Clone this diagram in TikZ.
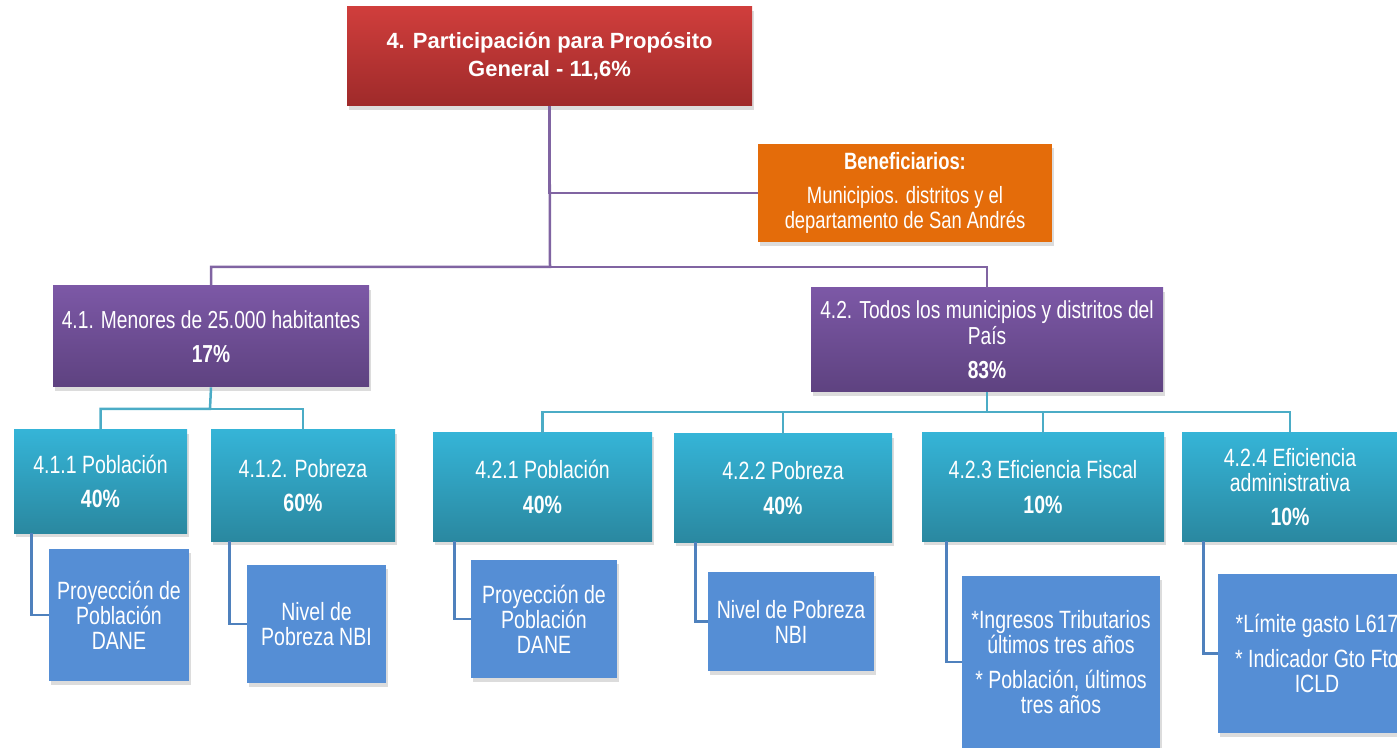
\documentclass[tikz,border=0pt]{standalone}
\usepackage{fontspec}
\setmainfont{Liberation Sans}
\newfontfamily\nfont[FakeStretch=0.78]{Liberation Sans}
\usetikzlibrary{shadows}

\definecolor{redT}{HTML}{D03E3C}
\definecolor{redB}{HTML}{9E2A2A}
\definecolor{orangeB}{HTML}{E46C0A}
\definecolor{purT}{HTML}{7C58A6}
\definecolor{purB}{HTML}{5E4280}
\definecolor{tealT}{HTML}{35B4D7}
\definecolor{tealB}{HTML}{2A88A0}
\definecolor{blueB}{HTML}{558ED5}
\definecolor{plineC}{HTML}{8064A2}
\definecolor{tlineC}{HTML}{4BACC6}
\definecolor{blineC}{HTML}{4F81BD}

\newcommand{\mkbox}[7]{%
 \pgfmathsetmacro{\bxw}{(#5-#3)*0.5}%
 \pgfmathsetmacro{\bxh}{(#6-#4)*0.5}%
 \node[#2, minimum width=\bxw pt, minimum height=\bxh pt] (#1) at ({(#3+#5)/2},{(#4+#6)/2}) {#7};}

\tikzset{
 box/.style={rectangle, inner sep=0pt, align=center, text=white,
   font=\nfont\fontsize{12.5}{12.5}\selectfont,
   drop shadow={shadow xshift=1.2pt, shadow yshift=-1.8pt, opacity=0.28}},
 redbox/.style={box, top color=redT, bottom color=redB, font=\bfseries\fontsize{11}{14}\selectfont},
 orbox/.style={box, fill=orangeB, font=\nfont\fontsize{11.8}{12.5}\selectfont},
 purbox/.style={box, top color=purT, bottom color=purB, font=\nfont\fontsize{12.3}{13}\selectfont},
 tealbox/.style={box, top color=tealT, bottom color=tealB},
 bluebox/.style={box, fill=blueB},
 pline/.style={draw=plineC, line width=1.25pt},
 tline/.style={draw=tlineC, line width=1.25pt},
 bline/.style={draw=blineC, line width=1.25pt},
}

\begin{document}
\begin{tikzpicture}[x=0.5pt, y=-0.5pt]
\path[use as bounding box] (0,0) rectangle (1397,748);
\clip (0,0) rectangle (1397,748);

% level 0
\mkbox{top}{redbox}{347}{7}{752}{106}{4. Participación para Propósito\\General - 11,6\%}
\mkbox{ben}{orbox}{758}{144}{1052}{242}{\textbf{Beneficiarios:}\\[4.5pt]Municipios. distritos y el\\departamento de San Andrés}

% level 1
\mkbox{l41}{purbox}{53}{286}{369}{387}{4.1. Menores de 25.000 habitantes\\[4pt]\textbf{17\%}}
\mkbox{l42}{purbox}{811}{288}{1163}{392}{4.2. Todos los municipios y distritos del\\País\\[4pt]\textbf{83\%}}

% level 2
\mkbox{c411}{tealbox}{14}{430}{187}{533}{4.1.1 Población\\[4.75pt]\textbf{40\%}}
\mkbox{c412}{tealbox}{211}{430}{395}{541}{4.1.2. Pobreza\\[4.75pt]\textbf{60\%}}
\mkbox{c421}{tealbox}{433}{433}{652}{541}{4.2.1 Población\\[4.75pt]\textbf{40\%}}
\mkbox{c422}{tealbox}{674}{434}{892}{542}{4.2.2 Pobreza\\[4.75pt]\textbf{40\%}}
\mkbox{c423}{tealbox}{922}{433}{1164}{541}{4.2.3 Eficiencia Fiscal\\[4.75pt]\textbf{10\%}}
\mkbox{c424}{tealbox}{1182}{433}{1398}{541}{4.2.4 Eficiencia\\administrativa\\[4.75pt]\textbf{10\%}}

% level 3
\mkbox{g411}{bluebox}{49}{549}{189}{681}{Proyección de\\Población\\DANE}
\mkbox{g412}{bluebox}{247}{565}{386}{683}{Nivel de\\Pobreza NBI}
\mkbox{g421}{bluebox}{471}{560}{617}{678}{Proyección de\\Población\\DANE}
\mkbox{g422}{bluebox}{708}{572}{874}{671}{Nivel de Pobreza\\NBI}
\mkbox{g423}{bluebox}{962}{576}{1160}{748}{*Ingresos Tributarios\\últimos tres años\\[4.75pt]* Población, últimos\\tres años}
\mkbox{g424}{bluebox}{1218}{574}{1416}{733}{*Límite gasto L617\\[4.75pt]* Indicador Gto Fto\\ICLD}

% junctions
\coordinate (j0) at (550,267);
\coordinate (j41) at (210,409);
\coordinate (j42) at (987,412);

% connectors level 0 -> 1
\draw[pline] (top.south) |- (ben.west);
\draw[pline] (top.south) -- (j0) -| (l41.north);
\draw[pline] (j0) -| (l42.north);

% level 1 -> 2
\draw[tline] (l41.south) -- (j41) -| (c411.north);
\draw[tline] (j41) -| (c412.north);
\draw[tline] (l42.south) -- (j42) -| (c421.north);
\draw[tline] (j42) -| (c422.north);
\draw[tline] (j42) -| (c423.north);
\draw[tline] (j42) -| (c424.north);

% level 2 -> 3
\draw[bline] ([xshift=9pt]c411.south west) |- (g411.west);
\draw[bline] ([xshift=9.5pt]c412.south west) |- (g412.west);
\draw[bline] ([xshift=11pt]c421.south west) |- (g421.west);
\draw[bline] ([xshift=11pt]c422.south west) |- (g422.west);
\draw[bline] ([xshift=12.5pt]c423.south west) |- (g423.west);
\draw[bline] ([xshift=11pt]c424.south west) |- (g424.west);
\end{tikzpicture}
\end{document}
